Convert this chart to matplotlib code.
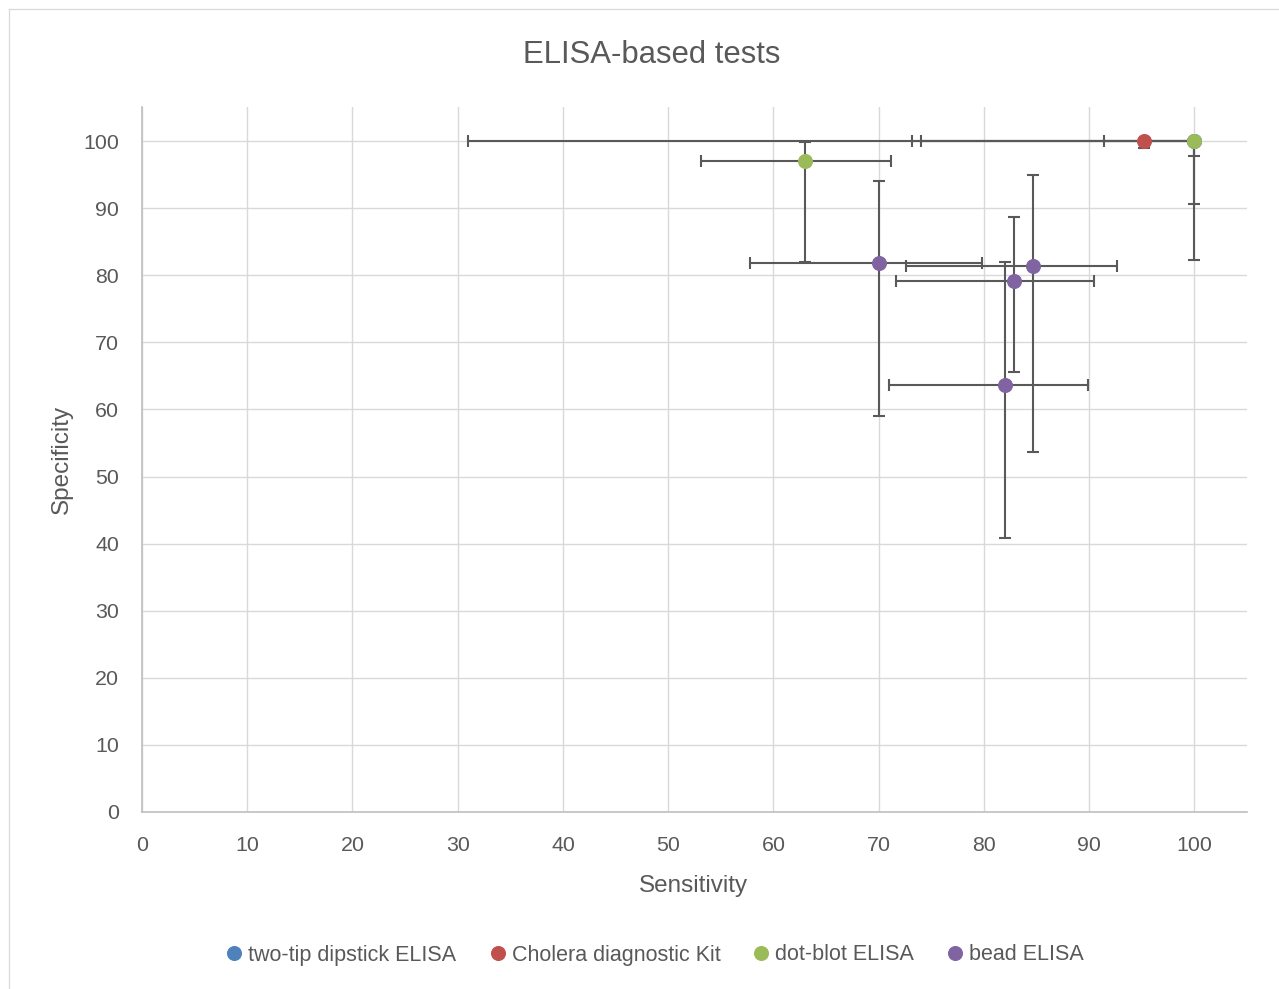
import matplotlib
matplotlib.use("Agg")
import matplotlib.pyplot as plt
from matplotlib.lines import Line2D
import numpy as np

plt.rcParams['font.family'] = ['Liberation Sans', 'DejaVu Sans']

# ---- data ----
series_names = ["two-tip dipstick ELISA", "Cholera diagnostic Kit", "dot-blot ELISA", "bead ELISA"]
series_colors = ["#4F81BD", "#C0504D", "#9BBB59", "#8064A2"]

dipstick_sens = [100, 100]
dipstick_spec = [100, 100]
dipstick_sens_lo = [73.2, 74.0]
dipstick_sens_hi = [100, 100]
dipstick_spec_lo = [97.7, 90.6]
dipstick_spec_hi = [100, 100]

cholera_sens = [95.2]
cholera_spec = [100]
cholera_sens_lo = [91.4]
cholera_sens_hi = [100]
cholera_spec_lo = [98.9]
cholera_spec_hi = [100]

dotblot_sens = [100, 63.0]
dotblot_spec = [100, 97.0]
dotblot_sens_lo = [31.0, 53.1]
dotblot_sens_hi = [100, 71.2]
dotblot_spec_lo = [82.3, 82.0]
dotblot_spec_hi = [100, 99.8]

bead_sens = [70.0, 84.7, 82.9, 82.0]
bead_spec = [81.8, 81.3, 79.2, 63.6]
bead_sens_lo = [57.8, 72.6, 71.6, 71.0]
bead_sens_hi = [79.8, 92.6, 90.5, 89.9]
bead_spec_lo = [59.0, 53.7, 65.5, 40.9]
bead_spec_hi = [94.0, 95.0, 88.7, 82.0]

x_ticks = [0, 10, 20, 30, 40, 50, 60, 70, 80, 90, 100]
y_ticks = [0, 10, 20, 30, 40, 50, 60, 70, 80, 90, 100]

series = [
    (dipstick_sens, dipstick_spec, dipstick_sens_lo, dipstick_sens_hi, dipstick_spec_lo, dipstick_spec_hi),
    (cholera_sens, cholera_spec, cholera_sens_lo, cholera_sens_hi, cholera_spec_lo, cholera_spec_hi),
    (dotblot_sens, dotblot_spec, dotblot_sens_lo, dotblot_sens_hi, dotblot_spec_lo, dotblot_spec_hi),
    (bead_sens, bead_spec, bead_sens_lo, bead_sens_hi, bead_spec_lo, bead_spec_hi),
]

TXT = "#595959"
GRID = "#D9D9D9"
SPINE = "#BFBFBF"
ERR = "#595959"

fig = plt.figure(figsize=(12.79, 9.89), dpi=100)
ax = fig.add_axes([0.11102, 0.17897, 0.86396, 0.71238])

handles = []
for (sx, sy, xlo, xhi, ylo, yhi), name, col in zip(series, series_names, series_colors):
    sx = np.array(sx, float); sy = np.array(sy, float)
    xerr = [sx - np.array(xlo), np.array(xhi) - sx]
    yerr = [sy - np.array(ylo), np.array(yhi) - sy]
    ax.errorbar(sx, sy, xerr=xerr, yerr=yerr, fmt='none', ecolor=ERR,
                elinewidth=1.5, capsize=4.2, capthick=1.5, zorder=3)
for (sx, sy, xlo, xhi, ylo, yhi), name, col in zip(series, series_names, series_colors):
    h, = ax.plot(sx, sy, linestyle='none', marker='o', markersize=10,
                 markerfacecolor=col, markeredgecolor=col, markeredgewidth=0.8,
                 label=name, zorder=4, clip_on=False)
    handles.append(h)

ax.set_xlim(0, 105)
ax.set_ylim(0, 105)
ax.set_xticks(x_ticks)
ax.set_yticks(y_ticks)
ax.tick_params(axis='both', length=0, labelsize=15.4, labelcolor=TXT)
ax.tick_params(axis='x', pad=17.5)
ax.tick_params(axis='y', pad=16.3)
ax.grid(True, color=GRID, linewidth=1.0)
ax.set_axisbelow(True)
for s in ['top', 'right']:
    ax.spines[s].set_visible(False)
for s in ['left', 'bottom']:
    ax.spines[s].set_color(SPINE)
    ax.spines[s].set_linewidth(1.2)

ax.set_xlabel("Sensitivity", fontsize=17.5, color=TXT)
ax.xaxis.label.set_verticalalignment('baseline')
ax.xaxis.set_label_coords(0.4995, -0.1131)
ax.set_ylabel("Specificity", fontsize=17.5, color=TXT)
ax.yaxis.label.set_verticalalignment('baseline')
ax.yaxis.set_label_coords(-0.0673, 0.5)

fig.text(651.8 / 1279, 1 - 63 / 989, "ELISA-based tests", ha='center', va='baseline',
         fontsize=22.4, color=TXT)

fig.legend(handles=handles, labels=series_names, loc='center',
           bbox_to_anchor=(655.5 / 1279, 1 - 955 / 989), ncol=4, frameon=False,
           fontsize=15.5, labelcolor=TXT, handlelength=0.7, handletextpad=0.3,
           columnspacing=1.56, borderaxespad=0, borderpad=0)

# chart border (top and left edges visible)
fig.add_artist(Line2D([9 / 1279, 1.01], [1 - 8.5 / 989, 1 - 8.5 / 989],
                      transform=fig.transFigure, color=GRID, linewidth=0.9))
fig.add_artist(Line2D([9 / 1279, 9 / 1279], [-0.01, 1 - 8.5 / 989],
                      transform=fig.transFigure, color=GRID, linewidth=0.9))

fig.savefig("out.png", dpi=100, facecolor='white')
